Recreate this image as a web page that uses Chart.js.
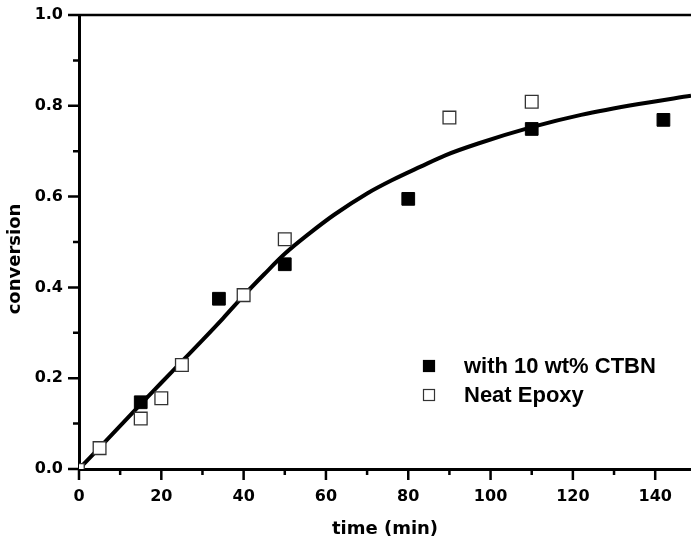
<!DOCTYPE html>
<html><head><meta charset="utf-8">
<script src="https://cdn.jsdelivr.net/npm/chart.js@4/dist/chart.umd.min.js"></script>
<style>html,body{margin:0;padding:0;background:#fff;overflow:hidden}#wrap{width:691px;height:549px;position:relative}</style>
</head><body><div id="wrap"><canvas id="c" width="691" height="549"></canvas></div>
<script>
// ---- data ----
const seriesLabels = ['with 10 wt% CTBN', 'Neat Epoxy'];
const ctbnTime = [15, 34, 50, 80, 110, 142];
const ctbnConv = [0.147, 0.375, 0.451, 0.595, 0.749, 0.769];
const neatTime = [0.5, 5, 15, 20, 25, 40, 50, 90, 110];
const neatConv = [0.005, 0.046, 0.111, 0.156, 0.229, 0.383, 0.506, 0.774, 0.809];
const fitTime = [0, 5, 10, 15, 20, 25, 30, 35, 40, 45, 50, 56, 62, 70, 76, 83, 89, 97, 110, 122, 136, 148.7];
const fitConv = [0.0, 0.047, 0.095, 0.143, 0.19, 0.237, 0.284, 0.332, 0.382, 0.429, 0.474, 0.519, 0.560, 0.607, 0.636, 0.666, 0.691, 0.717, 0.753, 0.780, 0.804, 0.822];
const xMajor = [0, 20, 40, 60, 80, 100, 120, 140];
const xMinor = [10, 30, 50, 70, 90, 110, 130];
const yMajor = [0.0, 0.2, 0.4, 0.6, 0.8, 1.0];
const yMinor = [0.1, 0.3, 0.5, 0.7, 0.9];
const xTitle = 'time (min)';
const yTitle = 'conversion';

const pts = (xs, ys) => xs.map((x, i) => ({x, y: ys[i]}));

const framePlugin = {
  id: 'frame',
  afterDraw(chart) {
    const ctx = chart.ctx, a = chart.chartArea;
    const xs = chart.scales.x, ys = chart.scales.y;
    ctx.save();
    ctx.strokeStyle = '#000';
    ctx.lineWidth = 2.5;
    ctx.beginPath();
    xMajor.forEach(v => { const p = xs.getPixelForValue(v); ctx.moveTo(p, a.bottom); ctx.lineTo(p, a.bottom + 11); });
    xMinor.forEach(v => { const p = xs.getPixelForValue(v); ctx.moveTo(p, a.bottom); ctx.lineTo(p, a.bottom + 6); });
    yMajor.forEach(v => { const p = ys.getPixelForValue(v); ctx.moveTo(a.left, p); ctx.lineTo(a.left - 11, p); });
    yMinor.forEach(v => { const p = ys.getPixelForValue(v); ctx.moveTo(a.left, p); ctx.lineTo(a.left - 6, p); });
    ctx.stroke();
    // top frame line
    ctx.lineWidth = 2.5;
    ctx.beginPath();
    ctx.moveTo(a.left, a.top); ctx.lineTo(a.right, a.top);
    ctx.stroke();
    // y-axis title
    ctx.save();
    ctx.translate(15, 259);
    ctx.rotate(-Math.PI / 2);
    ctx.font = 'bold 18px "DejaVu Sans", sans-serif';
    ctx.fillStyle = '#000';
    ctx.textAlign = 'center';
    ctx.textBaseline = 'middle';
    ctx.fillText(yTitle, 0, 0);
    ctx.restore();
    // legend
    const lx = 429, ly = [366, 395];
    ctx.font = 'bold 22px "Liberation Sans", Arial, sans-serif';
    ctx.textBaseline = 'middle';
    ctx.textAlign = 'left';
    chart.data.datasets.slice(0, 2).forEach((ds, i) => {
      ctx.fillStyle = ds.backgroundColor;
      ctx.strokeStyle = ds.borderColor;
      ctx.lineWidth = 1.2;
      ctx.fillRect(lx - 5.5, ly[i] - 5.5, 11, 11);
      ctx.strokeRect(lx - 5.5, ly[i] - 5.5, 11, 11);
      ctx.fillStyle = '#000';
      ctx.fillText(ds.label, 464, ly[i] + 1);
    });
    ctx.restore();
  }
};

new Chart(document.getElementById('c'), {
  type: 'scatter',
  data: {
    datasets: [
      { label: seriesLabels[0], data: pts(ctbnTime, ctbnConv), pointStyle: 'rect', pointRadius: 9,
        backgroundColor: '#000', borderColor: '#000', borderWidth: 1 },
      { label: seriesLabels[1], data: pts(neatTime, neatConv), pointStyle: 'rect',
        pointRadius: neatTime.map((t, i) => i === 0 ? 4.5 : 9),
        backgroundColor: '#fff', borderColor: '#333', borderWidth: 1.3 },
      { label: 'fit', type: 'line', data: pts(fitTime, fitConv), showLine: true, pointRadius: 0,
        borderColor: '#000', borderWidth: 4, cubicInterpolationMode: 'monotone', fill: false }
    ]
  },
  options: {
    responsive: false,
    animation: false,
    devicePixelRatio: 1,
    layout: { autoPadding: false, padding: { top: 15, right: 0, left: 0, bottom: 0 } },
    plugins: { legend: { display: false }, tooltip: { enabled: false } },
    scales: {
      x: {
        type: 'linear', min: 0, max: 148.7,
        afterBuildTicks: s => { s.ticks = xMajor.map(v => ({value: v})); },
        afterFit: s => { s.height = 80; s.paddingLeft = 0; s.paddingRight = 0; },
        grid: { drawOnChartArea: false, drawTicks: false },
        border: { display: true, color: '#000', width: 3 },
        ticks: { padding: 18, color: '#000', font: { family: 'DejaVu Sans', weight: 'bold', size: 16 },
                 callback: v => String(v), maxRotation: 0, autoSkip: false },
        title: { display: true, text: xTitle, color: '#000', font: { family: 'DejaVu Sans', weight: 'bold', size: 18 }, padding: { top: 0, bottom: 9 } }
      },
      y: {
        type: 'linear', min: 0, max: 1.0,
        afterBuildTicks: s => { s.ticks = yMajor.map(v => ({value: v})); },
        afterFit: s => { s.width = 79; s.paddingTop = 0; s.paddingBottom = 0; },
        grid: { drawOnChartArea: false, drawTicks: false },
        border: { display: true, color: '#000', width: 3 },
        ticks: { padding: 16, color: '#000', font: { family: 'DejaVu Sans', weight: 'bold', size: 16 },
                 callback: v => Number(v).toFixed(1), autoSkip: false },
        title: { display: false }
      }
    }
  },
  plugins: [framePlugin]
});
</script>
</body></html>
